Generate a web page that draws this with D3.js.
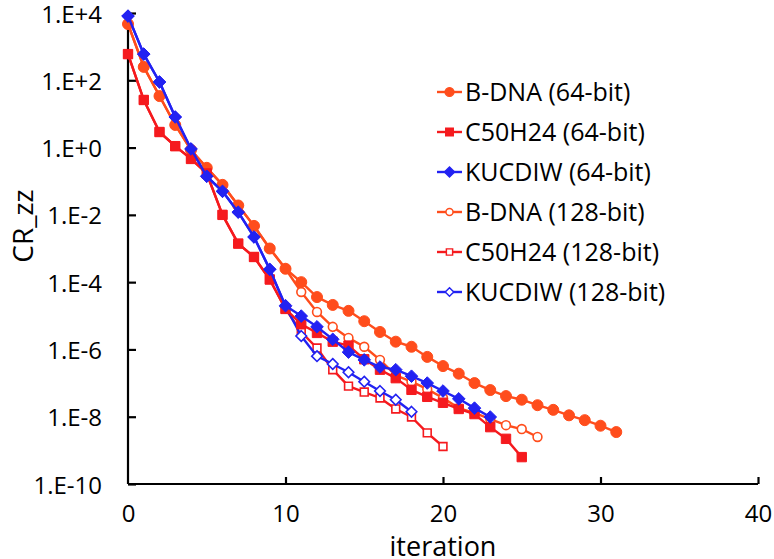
<!DOCTYPE html>
<html>
<head>
<meta charset="utf-8">
<script src="https://cdn.jsdelivr.net/npm/d3@7"></script>
<style>
  html, body { margin: 0; padding: 0; background: #fff; }
  svg { display: block; }
  text { font-family: "Open Sans", "Noto Sans", sans-serif; fill: #000; }
</style>
</head>
<body>
<svg id="chart" width="774" height="559"></svg>
<script>
// ---------- data ----------
const seriesNames = [
  "B-DNA (64-bit)", "C50H24 (64-bit)", "KUCDIW (64-bit)",
  "B-DNA (128-bit)", "C50H24 (128-bit)", "KUCDIW (128-bit)"
];
const bdna64 = [4.7e3, 2.5e2, 34, 4.7, 0.85, 0.25, 7.8e-2, 1.9e-2, 4.7e-3, 1.0e-3, 2.5e-4,
  1.0e-4, 3.6e-5, 2.1e-5, 1.4e-5, 6.9e-6, 3.3e-6, 1.7e-6, 1.2e-6, 6.0e-7, 3.2e-7,
  1.9e-7, 1.0e-7, 6.2e-8, 4.1e-8, 3.2e-8, 2.2e-8, 1.6e-8, 1.1e-8, 7.9e-9, 5.4e-9, 3.5e-9];
const c50h24_64 = [6.0e2, 26, 2.9, 1.1, 0.46, 0.17, 1.0e-2, 1.4e-3, 5.6e-4, 1.2e-4, 1.6e-5,
  5.6e-6, 3.1e-6, 1.7e-6, 1.3e-6, 5.1e-7, 2.5e-7, 1.4e-7, 6.3e-8, 3.9e-8, 2.6e-8,
  1.7e-8, 1.2e-8, 4.9e-9, 2.2e-9, 6.3e-10];
const kucdiw64 = [8.1e3, 6.0e2, 89, 8.1, 0.91, 0.14, 5.0e-2, 1.2e-2, 2.2e-3, 2.4e-4, 2.0e-5,
  9.8e-6, 4.7e-6, 2.0e-6, 8.3e-7, 4.9e-7, 3.0e-7, 2.5e-7, 1.6e-7, 1.0e-7, 5.8e-8,
  3.4e-8, 1.8e-8, 9.8e-9];
const bdna128 = [4.7e3, 2.5e2, 34, 4.7, 0.85, 0.25, 7.8e-2, 1.9e-2, 4.7e-3, 1.0e-3, 2.5e-4,
  5.1e-5, 1.3e-5, 4.7e-6, 2.2e-6, 1.2e-6, 4.9e-7, 1.7e-7, 1.1e-7, 6.6e-8, 3.6e-8,
  1.8e-8, 1.3e-8, 8.5e-9, 5.6e-9, 4.3e-9, 2.5e-9];
const c50h24_128 = [6.0e2, 26, 2.9, 1.1, 0.46, 0.17, 1.0e-2, 1.4e-3, 5.6e-4, 1.2e-4, 1.6e-5,
  3.3e-6, 1.1e-6, 2.5e-7, 8.1e-8, 5.4e-8, 3.6e-8, 1.7e-8, 9.8e-9, 3.3e-9, 1.3e-9];
const kucdiw128 = [8.1e3, 6.0e2, 89, 8.1, 0.91, 0.14, 5.0e-2, 1.2e-2, 2.2e-3, 2.4e-4, 1.9e-5,
  2.5e-6, 6.3e-7, 3.7e-7, 2.1e-7, 1.1e-7, 5.8e-8, 3.2e-8, 1.4e-8];
const xTicks = [0, 10, 20, 30, 40];
const yTicks = [1e4, 1e2, 1e0, 1e-2, 1e-4, 1e-6, 1e-8, 1e-10];
const yTickLabels = ["1.E+4", "1.E+2", "1.E+0", "1.E-2", "1.E-4", "1.E-6", "1.E-8", "1.E-10"];
const xTitle = "iteration";
const yTitle = "CR_zz";

// ---------- styles ----------
const cOrange = "#FF4D1C", cRed = "#F51A1E", cBlue = "#2222F2";
const seriesDefs = [
  { name: seriesNames[0], values: bdna64,     color: cOrange, shape: "circle",  open: false },
  { name: seriesNames[1], values: c50h24_64,  color: cRed,    shape: "square",  open: false },
  { name: seriesNames[2], values: kucdiw64,   color: cBlue,   shape: "diamond", open: false },
  { name: seriesNames[3], values: bdna128,    color: cOrange, shape: "circle",  open: true },
  { name: seriesNames[4], values: c50h24_128, color: cRed,    shape: "square",  open: true },
  { name: seriesNames[5], values: kucdiw128,  color: cBlue,   shape: "diamond", open: true }
];

const svg = d3.select("#chart");
const x = d3.scaleLinear().domain([0, 40]).range([128, 758]);
const y = d3.scaleLog().domain([1e-10, 1e4]).range([484, 13]);

function markerPath(shape, open) {
  if (shape === "circle") {
    const r = open ? 4.4 : 5.5;
    return `M${-r},0A${r},${r} 0 1,0 ${r},0A${r},${r} 0 1,0 ${-r},0Z`;
  }
  if (shape === "square") {
    const h = open ? 3.9 : 4.7;
    return `M${-h},${-h}H${h}V${h}H${-h}Z`;
  }
  const h = open ? 5.3 : 6.3;
  return `M0,${-h}L${h},0L0,${h}L${-h},0Z`;
}

// axes
const yAxis = d3.axisLeft(y).tickValues(yTicks)
  .tickFormat((d, i) => yTickLabels[i]).tickSize(-8).tickPadding(26);
const gy = svg.append("g").attr("transform", `translate(${x(0)},0)`).call(yAxis);
const xAxis = d3.axisBottom(x).tickValues(xTicks).tickSize(-7).tickPadding(21);
const gx = svg.append("g").attr("transform", `translate(0,${y(1e-10)})`).call(xAxis);
[gx, gy].forEach(g => {
  g.select(".domain").attr("stroke", "#000").attr("stroke-width", 2.2);
  g.selectAll(".tick line").attr("stroke", "#000").attr("stroke-width", 2.2);
  g.selectAll(".tick text").style("font-size", "24px").attr("fill", "#000");
});
gy.selectAll(".tick text").attr("dy", "0.38em");
gx.select(".domain").attr("d", `M${x(0)},0H${x(40)}`);
gy.select(".domain").attr("d", `M0,${y(1e4)}V${y(1e-10)}`);
gx.selectAll(".tick").filter(d => d === 0).select("line").remove();

// titles
svg.append("text").attr("x", x(20)).attr("y", 556).attr("text-anchor", "middle")
  .style("font-size", "27px").text(xTitle);
svg.append("text").attr("transform", "translate(33,226) rotate(-90)")
  .attr("text-anchor", "middle").style("font-size", "28px").text(yTitle);

// series: 128-bit drawn first, 64-bit on top
const drawOrder = [3, 4, 5, 0, 1, 2];
const line = d3.line().x((d, i) => x(i)).y(d => y(d));
drawOrder.forEach(k => {
  const s = seriesDefs[k];
  const g = svg.append("g");
  g.append("path").attr("d", line(s.values)).attr("fill", "none")
    .attr("stroke", s.color).attr("stroke-width", 2.4).attr("stroke-linejoin", "round");
  g.selectAll("path.m").data(s.values).join("path").attr("class", "m")
    .attr("transform", (d, i) => `translate(${x(i)},${y(d)})`)
    .attr("d", markerPath(s.shape, s.open))
    .attr("fill", s.open ? "#fff" : s.color)
    .attr("stroke", s.color).attr("stroke-width", s.open ? 1.6 : 1);
});

// legend
const lg = svg.append("g");
seriesDefs.forEach((s, i) => {
  const cy = 92 + i * 40;
  lg.append("line").attr("x1", 437).attr("x2", 462).attr("y1", cy).attr("y2", cy)
    .attr("stroke", s.color).attr("stroke-width", 2.4);
  lg.append("path").attr("transform", `translate(449.5,${cy}) scale(0.8)`)
    .attr("d", markerPath(s.shape, s.open))
    .attr("fill", s.open ? "#fff" : s.color).attr("stroke", s.color).attr("stroke-width", 1.8);
  lg.append("text").attr("x", 465).attr("y", cy).attr("dy", "0.36em")
    .style("font-size", "25px").text(s.name);
});
</script>
</body>
</html>
